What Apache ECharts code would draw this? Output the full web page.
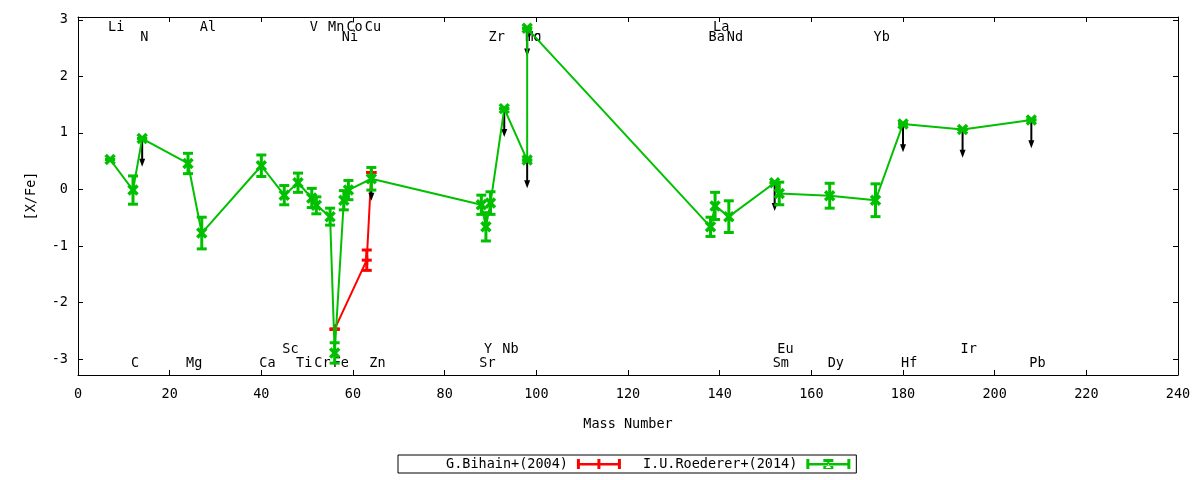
<!DOCTYPE html>
<html><head><meta charset="utf-8">
<script src="https://cdn.jsdelivr.net/npm/echarts@6/dist/echarts.min.js"></script>
<style>html,body{margin:0;padding:0;background:#fff}#c{width:1200px;height:480px}</style>
</head><body><div id="c"></div>
<script>
// I.U.Roederer+(2014)
const roedererMass  = [7, 12, 14, 24, 27, 40, 45, 48, 51, 52, 55, 56, 58, 59, 64, 88, 89, 90, 93, 98, 98, 138, 139, 142, 152, 153, 164, 174, 180, 193, 208];
const roedererValue = [0.53, -0.01, 0.90, 0.46, -0.77, 0.42, -0.10, 0.12, -0.15, -0.28, -0.48, -2.89, -0.19, -0.01, 0.19, -0.27, -0.66, -0.24, 1.43, 0.52, 2.85, -0.66, -0.29, -0.48, 0.12, -0.07, -0.11, -0.19, 1.16, 1.06, 1.23];
const roedererError = [0, 0.25, 0, 0.18, 0.28, 0.19, 0.17, 0.17, 0.17, 0.15, 0.15, 0.18, 0.17, 0.17, 0.20, 0.17, 0.25, 0.20, 0, 0, 0, 0.17, 0.24, 0.28, 0, 0.20, 0.22, 0.29, 0, 0, 0];
const roedererUpper = [0, 0, 1, 0, 0, 0, 0, 0, 0, 0, 0, 0, 0, 0, 0, 0, 0, 0, 1, 1, 1, 0, 0, 0, 1, 0, 0, 0, 1, 1, 1];
// G.Bihain+(2004)
const bihainMass  = [56, 63, 64];
const bihainValue = [-2.47, -1.25, 0.30];
const bihainError = [0, 0.18, 0];
const bihainUpper = [0, 0, 1];
// upper-limit arrow length (data units)
const arrowLength = 0.5;
// element labels: row 0/1 = top rows, 2/3 = bottom rows
const labelNames = ['Li','Al','V','Mn','Co','Cu','La', 'N','Ni','Zr','Mo','Tc','Ba','Nd','Yb', 'Sc','Y','Nb','Eu','Ir', 'C','Mg','Ca','Ti','Cr','Fe','Zn','Sr','Sm','Dy','Hf','Pb'];
const labelMass  = [7,27,51,55,59,63,139, 14,58,90,98,98,138,142,174, 45,89,93,153,193, 12,24,40,48,52,56,64,88,152,164,180,208];
const labelRow   = [0,0,0,0,0,0,0, 1,1,1,1,1,1,1,1, 2,2,2,2,2, 3,3,3,3,3,3,3,3,3,3,3,3];
// tick labels
const xTicks = [0,20,40,60,80,100,120,140,160,180,200,220,240];
const yTicks = [-3,-2,-1,0,1,2,3];

const RED = '#ff0000', GREEN = '#00c000';
const FONT = '"DejaVu Sans Mono", monospace';
const FS = 13.5;

function barSeries(name, mass, val, err, color, marker, z) {
  return {
    type: 'custom', name: name, z: z, silent: true,
    data: mass.map((m, i) => [m, val[i], err[i]]),
    encode: { x: 0, y: 1 },
    renderItem: function (params, api) {
      const x = api.value(0), y = api.value(1), e = api.value(2);
      const p = api.coord([x, y]);
      const hi = api.coord([x, y + e]);
      const lo = api.coord([x, y - e]);
      const cw = 5, st = { stroke: color, lineWidth: 3 };
      const ch = [
        { type: 'line', shape: { x1: p[0], y1: hi[1], x2: p[0], y2: lo[1] }, style: st },
        { type: 'line', shape: { x1: p[0] - cw, y1: hi[1], x2: p[0] + cw, y2: hi[1] }, style: st },
        { type: 'line', shape: { x1: p[0] - cw, y1: lo[1], x2: p[0] + cw, y2: lo[1] }, style: st }
      ];
      if (marker === 'x') {
        const xs = { stroke: color, lineWidth: 3.5 };
        ch.push({ type: 'line', shape: { x1: p[0] - 4.5, y1: p[1] - 4.5, x2: p[0] + 4.5, y2: p[1] + 4.5 }, style: xs });
        ch.push({ type: 'line', shape: { x1: p[0] - 4.5, y1: p[1] + 4.5, x2: p[0] + 4.5, y2: p[1] - 4.5 }, style: xs });
      } else {
        ch.push({ type: 'line', shape: { x1: p[0] - 5, y1: p[1], x2: p[0] + 5, y2: p[1] }, style: st });
        ch.push({ type: 'line', shape: { x1: p[0], y1: p[1] - 5, x2: p[0], y2: p[1] + 5 }, style: st });
      }
      return { type: 'group', children: ch };
    }
  };
}

const arrowData = [];
roedererMass.forEach((m, i) => { if (roedererUpper[i]) arrowData.push([m, roedererValue[i]]); });
bihainMass.forEach((m, i) => { if (bihainUpper[i]) arrowData.push([m, bihainValue[i]]); });

const chart = echarts.init(document.getElementById('c'));
chart.setOption({
  animation: false,
  backgroundColor: '#fff',
  grid: { left: 78, right: 22, top: 17, bottom: 105 },
  legend: {
    left: 398, top: 455,
    align: 'right',
    orient: 'horizontal',
    padding: [2, 6, 2, 48],
    itemGap: 22,
    itemWidth: 44, itemHeight: 10,
    borderColor: '#000', borderWidth: 1,
    textStyle: { fontFamily: FONT, fontSize: FS, color: '#000', padding: [0, 4, 0, 0] },
    data: [
      { name: 'G.Bihain+(2004)', icon: 'path://M0,0H3V10H0Z M41,0H44V10H41Z M0,4H44V6.5H0Z M20.5,0H23.5V10H20.5Z' },
      { name: 'I.U.Roederer+(2014)', icon: 'path://M0,0H3V10H0Z M41,0H44V10H41Z M0,4H44V6.5H0Z M17,0H27V3H17Z M17,7H27V10H17Z M19,1H25L22,5Z M19,9H25L22,5Z' }
    ]
  },
  xAxis: [
    {
      type: 'value', min: 0, max: 240, interval: 20, position: 'bottom',
      name: 'Mass Number', nameLocation: 'middle', nameGap: 42,
      nameTextStyle: { fontFamily: FONT, fontSize: FS, color: '#000' },
      axisLine: { show: true, onZero: false, lineStyle: { color: '#000', width: 1 } },
      axisTick: { show: true, inside: true, length: 5, lineStyle: { color: '#000' } },
      axisLabel: { fontFamily: FONT, fontSize: FS, color: '#000', margin: 12,
        customValues: xTicks },
      splitLine: { show: false }
    },
    {
      type: 'value', min: 0, max: 240, interval: 20, position: 'top',
      axisLine: { show: true, onZero: false, lineStyle: { color: '#000', width: 1 } },
      axisTick: { show: true, inside: true, length: 5, lineStyle: { color: '#000' } },
      axisLabel: { show: false },
      splitLine: { show: false }
    }
  ],
  yAxis: [
    {
      type: 'value', min: -3.28, max: 3.05, position: 'left',
      name: '[X/Fe]', nameLocation: 'middle', nameGap: 40, nameRotate: 90,
      nameTextStyle: { fontFamily: FONT, fontSize: FS, color: '#000' },
      axisLine: { show: true, onZero: false, lineStyle: { color: '#000', width: 1 } },
      axisTick: { show: true, inside: true, length: 5, lineStyle: { color: '#000' }, customValues: yTicks },
      axisLabel: { fontFamily: FONT, fontSize: FS, color: '#000', margin: 10, customValues: yTicks },
      splitLine: { show: false }
    },
    {
      type: 'value', min: -3.28, max: 3.05, position: 'right',
      axisLine: { show: true, onZero: false, lineStyle: { color: '#000', width: 1 } },
      axisTick: { show: true, inside: true, length: 5, lineStyle: { color: '#000' }, customValues: yTicks },
      axisLabel: { show: false },
      splitLine: { show: false }
    }
  ],
  series: [
    {
      type: 'custom', name: 'labels', z: 1, silent: true,
      data: labelMass.map((m, i) => [m, labelRow[i]]),
      encode: { x: 0 },
      renderItem: function (params, api) {
        const cs = params.coordSys;
        const px = api.coord([api.value(0), 0])[0];
        const row = api.value(1);
        const offs = [10.5, 20.5, -25.5, -11.5];
        const y = row < 2 ? cs.y + offs[row] : cs.y + cs.height + offs[row];
        return { type: 'text', style: { text: labelNames[params.dataIndex], x: px - 2, y: y,
          textAlign: 'left', textVerticalAlign: 'middle', font: FS + 'px ' + FONT, fill: '#000' } };
      }
    },
    {
      type: 'line', name: 'G.Bihain+(2004)', z: 2, color: RED,
      data: bihainMass.map((m, i) => [m, bihainValue[i]]),
      showSymbol: false, symbol: 'none',
      lineStyle: { color: RED, width: 2 }
    },
    barSeries('G.Bihain+(2004)', bihainMass, bihainValue, bihainError, RED, '+', 3),
    {
      type: 'custom', name: 'arrows', z: 4, silent: true,
      data: arrowData,
      encode: { x: 0, y: 1 },
      renderItem: function (params, api) {
        const x = api.value(0), y = api.value(1);
        const p = api.coord([x, y]);
        const q = api.coord([x, y - arrowLength]);
        return { type: 'group', children: [
          { type: 'line', shape: { x1: p[0], y1: p[1], x2: q[0], y2: q[1] - 5 }, style: { stroke: '#000', lineWidth: 2 } },
          { type: 'polygon', shape: { points: [[q[0] - 3, q[1] - 8], [q[0] + 3, q[1] - 8], [q[0], q[1]]] }, style: { fill: '#000' } }
        ] };
      }
    },
    {
      type: 'line', name: 'I.U.Roederer+(2014)', z: 5, color: GREEN,
      data: roedererMass.map((m, i) => [m, roedererValue[i]]),
      showSymbol: false, symbol: 'none',
      lineStyle: { color: GREEN, width: 2 }
    },
    barSeries('I.U.Roederer+(2014)', roedererMass, roedererValue, roedererError, GREEN, 'x', 6)
  ]
});
</script>
</body></html>
